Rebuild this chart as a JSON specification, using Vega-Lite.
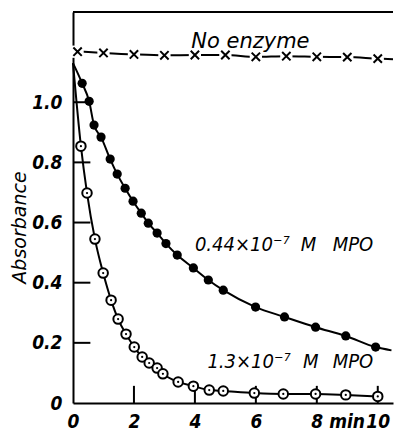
{
  "$schema": "https://vega.github.io/schema/vega-lite/v6.json",
  "width": 320,
  "height": 391,
  "autosize": {"type": "none"},
  "padding": {"left": 73, "top": 12, "right": 6, "bottom": 29},
  "background": "white",
  "config": {
    "view": {"stroke": null},
    "font": "DejaVu Sans Condensed",
    "axis": {
      "domainColor": "black", "domainWidth": 2, "ticks": false,
      "labelColor": "black", "labelFont": "DejaVu Sans Condensed", "labelFontStyle": "italic",
      "labelFontWeight": "bold", "labelFontSize": 19, "grid": false, "titleColor": "black"
    }
  },
  "datasets": {
    "obs": [
      {"series": "none", "t": 0.15, "a": 1.168}, {"series": "none", "t": 1, "a": 1.164},
      {"series": "none", "t": 2, "a": 1.159}, {"series": "none", "t": 3, "a": 1.156},
      {"series": "none", "t": 4, "a": 1.157}, {"series": "none", "t": 5, "a": 1.157},
      {"series": "none", "t": 6, "a": 1.151}, {"series": "none", "t": 7, "a": 1.153},
      {"series": "none", "t": 8, "a": 1.151}, {"series": "none", "t": 9, "a": 1.15},
      {"series": "none", "t": 10, "a": 1.145},
      {"series": "low", "t": 0.3, "a": 1.063}, {"series": "low", "t": 0.53, "a": 1.003},
      {"series": "low", "t": 0.69, "a": 0.924}, {"series": "low", "t": 0.92, "a": 0.884},
      {"series": "low", "t": 1.22, "a": 0.811}, {"series": "low", "t": 1.45, "a": 0.761},
      {"series": "low", "t": 1.71, "a": 0.714}, {"series": "low", "t": 1.97, "a": 0.671},
      {"series": "low", "t": 2.24, "a": 0.631}, {"series": "low", "t": 2.47, "a": 0.598},
      {"series": "low", "t": 2.76, "a": 0.565}, {"series": "low", "t": 3.05, "a": 0.53},
      {"series": "low", "t": 3.42, "a": 0.492}, {"series": "low", "t": 3.95, "a": 0.449},
      {"series": "low", "t": 4.44, "a": 0.409}, {"series": "low", "t": 4.93, "a": 0.375},
      {"series": "low", "t": 5.99, "a": 0.319}, {"series": "low", "t": 6.94, "a": 0.286},
      {"series": "low", "t": 7.96, "a": 0.252}, {"series": "low", "t": 8.95, "a": 0.223},
      {"series": "low", "t": 9.93, "a": 0.186},
      {"series": "high", "t": 0.26, "a": 0.854}, {"series": "high", "t": 0.46, "a": 0.698},
      {"series": "high", "t": 0.72, "a": 0.545}, {"series": "high", "t": 0.99, "a": 0.432},
      {"series": "high", "t": 1.25, "a": 0.342}, {"series": "high", "t": 1.48, "a": 0.279},
      {"series": "high", "t": 1.74, "a": 0.229}, {"series": "high", "t": 2.01, "a": 0.186},
      {"series": "high", "t": 2.27, "a": 0.153}, {"series": "high", "t": 2.5, "a": 0.133},
      {"series": "high", "t": 2.76, "a": 0.116}, {"series": "high", "t": 2.95, "a": 0.097},
      {"series": "high", "t": 3.45, "a": 0.07}, {"series": "high", "t": 3.95, "a": 0.056},
      {"series": "high", "t": 4.47, "a": 0.043}, {"series": "high", "t": 4.93, "a": 0.04},
      {"series": "high", "t": 5.95, "a": 0.033}, {"series": "high", "t": 6.9, "a": 0.03},
      {"series": "high", "t": 7.96, "a": 0.03}, {"series": "high", "t": 8.95, "a": 0.027},
      {"series": "high", "t": 10, "a": 0.022}
    ],
    "curve": [
      {"series": "none", "t": 0.0, "a": 1.17}, {"series": "none", "t": 1, "a": 1.164},
      {"series": "none", "t": 2, "a": 1.159}, {"series": "none", "t": 3, "a": 1.156},
      {"series": "none", "t": 4, "a": 1.157}, {"series": "none", "t": 5, "a": 1.157},
      {"series": "none", "t": 6, "a": 1.151}, {"series": "none", "t": 7, "a": 1.153},
      {"series": "none", "t": 8, "a": 1.151}, {"series": "none", "t": 9, "a": 1.15},
      {"series": "none", "t": 10, "a": 1.145}, {"series": "none", "t": 10.5, "a": 1.143},
      {"series": "low", "t": 0, "a": 1.13}, {"series": "low", "t": 0.3, "a": 1.063},
      {"series": "low", "t": 0.53, "a": 1.003}, {"series": "low", "t": 0.69, "a": 0.924},
      {"series": "low", "t": 0.92, "a": 0.884}, {"series": "low", "t": 1.22, "a": 0.811},
      {"series": "low", "t": 1.45, "a": 0.761}, {"series": "low", "t": 1.71, "a": 0.714},
      {"series": "low", "t": 1.97, "a": 0.671}, {"series": "low", "t": 2.24, "a": 0.631},
      {"series": "low", "t": 2.47, "a": 0.598}, {"series": "low", "t": 2.76, "a": 0.565},
      {"series": "low", "t": 3.05, "a": 0.53}, {"series": "low", "t": 3.42, "a": 0.492},
      {"series": "low", "t": 3.95, "a": 0.449}, {"series": "low", "t": 4.44, "a": 0.409},
      {"series": "low", "t": 4.93, "a": 0.375}, {"series": "low", "t": 5.99, "a": 0.319},
      {"series": "low", "t": 6.94, "a": 0.286}, {"series": "low", "t": 7.96, "a": 0.252},
      {"series": "low", "t": 8.95, "a": 0.223}, {"series": "low", "t": 9.93, "a": 0.186},
      {"series": "low", "t": 10.45, "a": 0.175},
      {"series": "high", "t": 0, "a": 1.13}, {"series": "high", "t": 0.26, "a": 0.854},
      {"series": "high", "t": 0.46, "a": 0.698}, {"series": "high", "t": 0.72, "a": 0.545},
      {"series": "high", "t": 0.99, "a": 0.432}, {"series": "high", "t": 1.25, "a": 0.342},
      {"series": "high", "t": 1.48, "a": 0.279}, {"series": "high", "t": 1.74, "a": 0.229},
      {"series": "high", "t": 2.01, "a": 0.186}, {"series": "high", "t": 2.27, "a": 0.153},
      {"series": "high", "t": 2.5, "a": 0.133}, {"series": "high", "t": 2.76, "a": 0.116},
      {"series": "high", "t": 2.95, "a": 0.097}, {"series": "high", "t": 3.45, "a": 0.07},
      {"series": "high", "t": 3.95, "a": 0.056}, {"series": "high", "t": 4.47, "a": 0.043},
      {"series": "high", "t": 4.93, "a": 0.04}, {"series": "high", "t": 5.95, "a": 0.033},
      {"series": "high", "t": 6.9, "a": 0.03}, {"series": "high", "t": 7.96, "a": 0.03},
      {"series": "high", "t": 8.95, "a": 0.027}, {"series": "high", "t": 10, "a": 0.022}
    ],
    "notes": [
      {"t": 3.88, "a": 1.2, "text": "No enzyme", "size": "big"},
      {"t": 4.0, "a": 0.525, "text": "0.44×10⁻⁷", "size": "small"},
      {"t": 7.47, "a": 0.525, "text": "M", "size": "small"},
      {"t": 8.52, "a": 0.525, "text": "MPO", "size": "small"},
      {"t": 4.41, "a": 0.136, "text": "1.3×10⁻⁷", "size": "small"},
      {"t": 7.55, "a": 0.136, "text": "M", "size": "small"},
      {"t": 8.52, "a": 0.136, "text": "MPO", "size": "small"}
    ],
    "yticks": [{"a": 0.2}, {"a": 0.4}, {"a": 0.6}, {"a": 0.8}, {"a": 1.0}],
    "xticks": [{"t": 2}, {"t": 4}, {"t": 6}, {"t": 8}, {"t": 10}]
  },
  "layer": [
    {
      "data": {"name": "curve"},
      "mark": {"type": "line", "color": "black", "strokeWidth": 2, "interpolate": "monotone"},
      "encoding": {
        "x": {"field": "t", "type": "quantitative", "scale": {"domain": [0, 10.5], "nice": false},
          "axis": {"title": null, "values": [0, 2, 4, 6, 8, 10], "labelPadding": 9,
            "labelExpr": "datum.value == 8 ? '8 min' : datum.label",
            "labelAlign": {"condition": {"test": "datum.value == 8", "value": "left"}, "value": "center"},
            "labelOffset": {"condition": {"test": "datum.value == 8", "value": -6}, "value": 0}}},
        "y": {"field": "a", "type": "quantitative", "scale": {"domain": [0, 1.3], "nice": false, "zero": true},
          "axis": {"title": "Absorbance", "values": [0, 0.2, 0.4, 0.6, 0.8, 1.0], "labelPadding": 11,
            "labelExpr": "datum.value == 0 ? '0' : format(datum.value, '.1f')",
            "titleFont": "DejaVu Sans", "titleFontStyle": "italic", "titleFontWeight": "normal",
            "titleFontSize": 19, "titleColor": "black", "titleX": -54, "titleY": 215, "titleBaseline": "middle"}},
        "detail": {"field": "series"}
      }
    },
    {
      "data": {"name": "yticks"},
      "mark": {"type": "rule", "color": "black", "strokeWidth": 2},
      "encoding": {
        "y": {"field": "a", "type": "quantitative"},
        "x": {"datum": 0, "type": "quantitative"},
        "x2": {"datum": 0.57}
      }
    },
    {
      "data": {"name": "xticks"},
      "mark": {"type": "rule", "color": "black", "strokeWidth": 2},
      "encoding": {
        "x": {"field": "t", "type": "quantitative"},
        "y": {"datum": 0, "type": "quantitative"},
        "y2": {"datum": 0.057}
      }
    },
    {
      "data": {"name": "obs"},
      "transform": [{"filter": "datum.series == 'none'"}],
      "mark": {"type": "point", "shape": "square", "filled": true, "color": "white", "opacity": 1, "size": 150},
      "encoding": {
        "x": {"field": "t", "type": "quantitative"},
        "y": {"field": "a", "type": "quantitative"}
      }
    },
    {
      "data": {"name": "obs"},
      "transform": [{"filter": "datum.series == 'none'"}],
      "mark": {"type": "point", "shape": "M-1,-1L1,1M-1,1L1,-1", "filled": false, "color": "black", "strokeWidth": 2, "opacity": 1, "size": 70},
      "encoding": {
        "x": {"field": "t", "type": "quantitative"},
        "y": {"field": "a", "type": "quantitative"}
      }
    },
    {
      "data": {"name": "obs"},
      "transform": [{"filter": "datum.series == 'low'"}],
      "mark": {"type": "point", "shape": "circle", "filled": true, "color": "black", "opacity": 1, "size": 85},
      "encoding": {
        "x": {"field": "t", "type": "quantitative"},
        "y": {"field": "a", "type": "quantitative"}
      }
    },
    {
      "data": {"name": "obs"},
      "transform": [{"filter": "datum.series == 'high'"}],
      "mark": {"type": "point", "shape": "circle", "filled": false, "fill": "white", "fillOpacity": 1, "stroke": "black", "strokeWidth": 2, "opacity": 1, "size": 90},
      "encoding": {
        "x": {"field": "t", "type": "quantitative"},
        "y": {"field": "a", "type": "quantitative"}
      }
    },
    {
      "data": {"name": "obs"},
      "transform": [{"filter": "datum.series == 'high'"}],
      "mark": {"type": "point", "shape": "circle", "filled": true, "color": "black", "opacity": 1, "size": 5},
      "encoding": {
        "x": {"field": "t", "type": "quantitative"},
        "y": {"field": "a", "type": "quantitative"}
      }
    },
    {
      "data": {"name": "notes"},
      "transform": [{"filter": "datum.size == 'big'"}],
      "mark": {"type": "text", "align": "left", "baseline": "middle", "font": "DejaVu Sans", "fontStyle": "italic", "fontSize": 21, "color": "black"},
      "encoding": {
        "x": {"field": "t", "type": "quantitative"},
        "y": {"field": "a", "type": "quantitative"},
        "text": {"field": "text"}
      }
    },
    {
      "data": {"name": "notes"},
      "transform": [{"filter": "datum.size == 'small'"}],
      "mark": {"type": "text", "align": "left", "baseline": "middle", "font": "DejaVu Sans Condensed", "fontStyle": "italic", "fontSize": 20, "color": "black"},
      "encoding": {
        "x": {"field": "t", "type": "quantitative"},
        "y": {"field": "a", "type": "quantitative"},
        "text": {"field": "text"}
      }
    },
    {
      "data": {"values": [{"top": 1.3}]},
      "mark": {"type": "rule", "color": "black", "strokeWidth": 2},
      "encoding": {
        "y": {"field": "top", "type": "quantitative"}
      }
    }
  ]
}
